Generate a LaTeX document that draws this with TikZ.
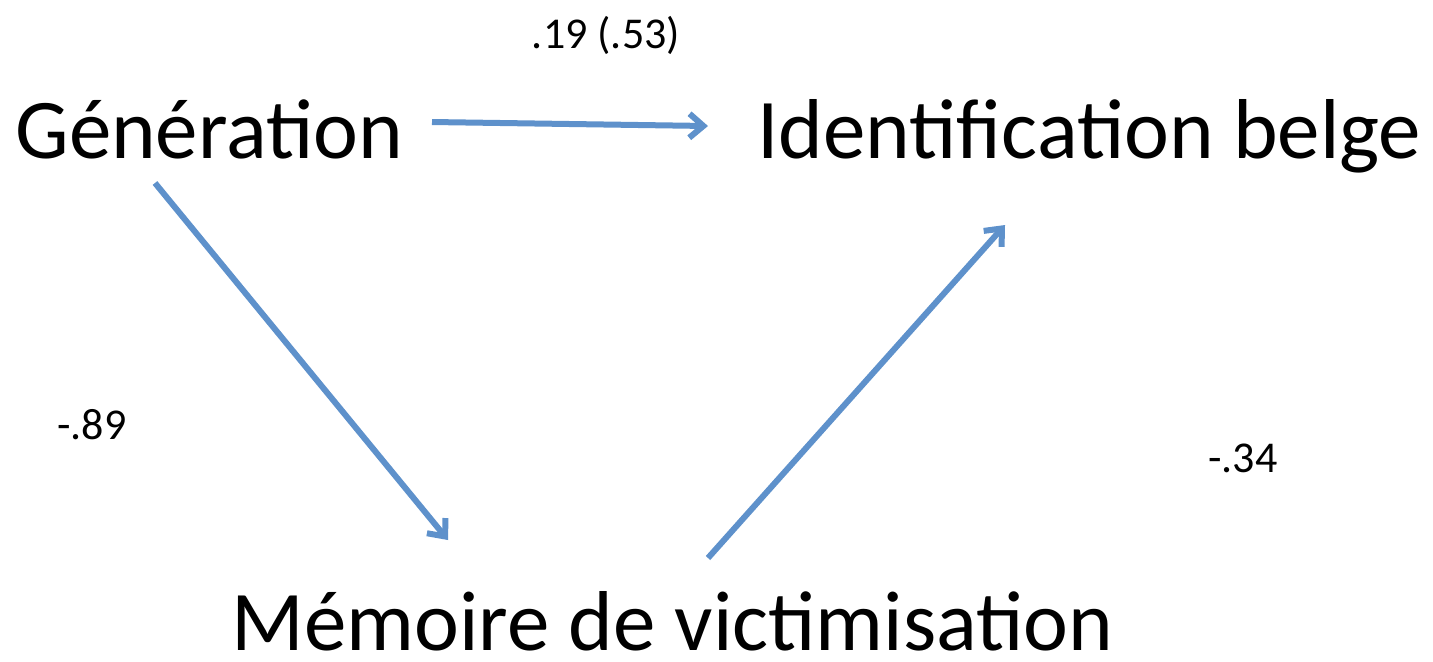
\documentclass[tikz,border=0pt]{standalone}
\usepackage{fontspec}
\setmainfont{Carlito}
\usetikzlibrary{arrows.meta}
\definecolor{linkblue}{RGB}{94,145,203}

\begin{document}
\begin{tikzpicture}[x=0.5pt,y=-0.5pt,
   var/.style={inner sep=0pt,anchor=base west,font=\fontsize{42.5}{50}\selectfont},
   coef/.style={inner sep=0pt,font=\fontsize{22}{26}\selectfont},
   link/.style={draw=linkblue,line width=3pt,-{Straight Barb[length=7pt,width=12pt]}}]
\useasboundingbox (0,0) rectangle (1433,661);
% variables
\node[var] (gen)   at (15,158)  {Génération};
\node[var] (ident) at (757,158) {Identification belge};
\node[var] (mem)   at (231,650) {Mémoire de victimisation};
% paths
\draw[link] ([shift={(417,-36)}]gen.base west) -- ([shift={(-49,-32)}]ident.base west);
\draw[link] ([shift={(140,25)}]gen.base west) -- ([shift={(217,-110)}]mem.base west);
\draw[link] ([shift={(477,-92)}]mem.base west) -- ([shift={(248,67)}]ident.base west);
% coefficients
\node[coef] (c-gi) at (606,35)  {.19 (.53)};
\node[coef] (c-gm) at (92,425)  {-.89};
\node[coef] (c-mi) at (1243,458) {-.34};
\end{tikzpicture}
\end{document}
